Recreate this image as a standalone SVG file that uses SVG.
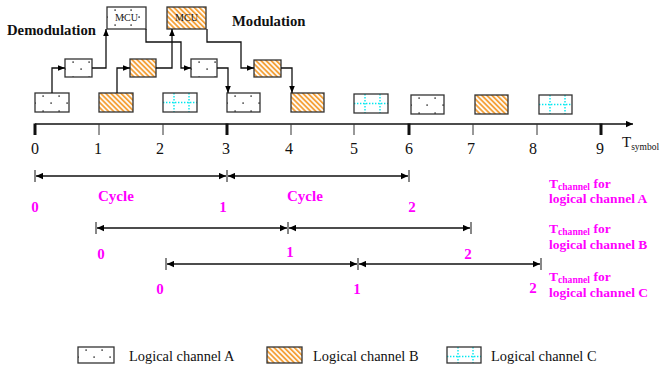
<svg xmlns="http://www.w3.org/2000/svg" width="660" height="370" viewBox="0 0 660 370">
<style>
  .box{stroke:#333;stroke-width:1.3}
  .a{fill:url(#patA)}
  .b{fill:url(#patB)}
  .c{fill:url(#patC)}
  .conn{fill:none;stroke:#111;stroke-width:1.3}
  .dbl{fill:none;stroke:#111;stroke-width:1.3;marker-start:url(#ah);marker-end:url(#ah)}
  .bar{stroke:#111;stroke-width:1}
  .serif{font-family:"Liberation Serif","Times New Roman",serif}
  .tick{font-family:"Liberation Serif","Times New Roman",serif;font-size:16px;fill:#111;text-anchor:middle}
  .mag{font-family:"Liberation Serif","Times New Roman",serif;font-weight:bold;fill:#ff00ff}
  .num{font-size:15px;text-anchor:middle}
  .lbl{font-size:13.5px}
  .title{font-family:"Liberation Serif","Times New Roman",serif;font-weight:bold;font-size:14.7px;fill:#111}
  .mcu{font-family:"Liberation Serif","Times New Roman",serif;font-size:10px;fill:#222;text-anchor:middle}
  .leg{font-family:"Liberation Serif","Times New Roman",serif;font-size:14.4px;fill:#111}
</style>
<defs>
  <pattern id="patA" patternUnits="userSpaceOnUse" width="16" height="15">
    <rect width="16" height="15" fill="#fff"/>
    <rect x="7.4" y="2.4" width="1.4" height="1.4" fill="#222"/>
    <rect x="-0.6" y="9.4" width="1.4" height="1.4" fill="#222"/>
    <rect x="15.4" y="9.4" width="1.4" height="1.4" fill="#222"/>
  </pattern>
  <pattern id="patB" patternUnits="userSpaceOnUse" width="3.6" height="8" patternTransform="rotate(-45)">
    <rect width="3.6" height="8" fill="#fff"/>
    <rect width="1.9" height="8" fill="#f4a23c"/>
  </pattern>
  <pattern id="patC" patternUnits="userSpaceOnUse" width="15" height="19">
    <rect width="15" height="19" fill="#fff"/>
    <line x1="11" y1="0" x2="11" y2="19" stroke="#00e8f0" stroke-width="1.4" stroke-dasharray="1.4 1.6"/>
    <line x1="0" y1="9.5" x2="15" y2="9.5" stroke="#00e8f0" stroke-width="1.4" stroke-dasharray="1.4 1.6"/>
  </pattern>
  <marker id="ah" viewBox="0 0 10 10" refX="10" refY="5" markerWidth="8" markerHeight="7" markerUnits="userSpaceOnUse" orient="auto-start-reverse">
    <path d="M0,0.5 L10,5 L0,9.5 z" fill="#000"/>
  </marker>
  <marker id="ahs" viewBox="0 0 10 10" refX="10" refY="5" markerWidth="7" markerHeight="7" markerUnits="userSpaceOnUse" orient="auto">
    <path d="M0,1 L10,5 L0,9 z" fill="#000"/>
  </marker>
</defs>
<rect width="660" height="370" fill="#fff"/>

<text class="title" x="7" y="35">Demodulation</text>
<text class="title" x="232" y="26">Modulation</text>

<!-- MCU nodes -->
<g id="mcuA" transform="translate(107,7)"><rect class="box a" width="39" height="22"/><text class="mcu" x="19.5" y="14">MCU</text></g>
<g id="mcuB" transform="translate(167,7)"><rect class="box b" width="39" height="22"/><text class="mcu" x="19.5" y="14">MCU</text></g>

<!-- middle row -->
<g id="midA1" transform="translate(65,59)"><rect class="box a" width="27" height="18"/></g>
<g id="midB1" transform="translate(130,59)"><rect class="box b" width="26" height="18"/></g>
<g id="midA2" transform="translate(191,59)"><rect class="box a" width="26" height="18"/></g>
<g id="midB2" transform="translate(254,60)"><rect class="box b" width="27" height="17"/></g>

<!-- bottom row -->
<g id="slot0" transform="translate(35,93)"><rect class="box a" width="34" height="19"/></g>
<g id="slot1" transform="translate(99,93)"><rect class="box b" width="34" height="19"/></g>
<g id="slot2" transform="translate(163,93)"><rect class="box c" width="34" height="19"/></g>
<g id="slot3" transform="translate(227,93)"><rect class="box a" width="33" height="19"/></g>
<g id="slot4" transform="translate(291,93)"><rect class="box b" width="33" height="19"/></g>
<g id="slot5" transform="translate(354,94)"><rect class="box c" width="34" height="19"/></g>
<g id="slot6" transform="translate(411,95)"><rect class="box a" width="33" height="19"/></g>
<g id="slot7" transform="translate(475,95)"><rect class="box b" width="33" height="19"/></g>
<g id="slot8" transform="translate(539,95)"><rect class="box c" width="33" height="19"/></g>

<!-- connectors -->
<g id="connectors">
  <path class="conn" d="M52,93 V68 H65" marker-end="url(#ahs)"/>
  <path class="conn" d="M92,68 H106 V29" marker-end="url(#ahs)"/>
  <path class="conn" d="M117,93 V68 H130" marker-end="url(#ahs)"/>
  <path class="conn" d="M156,68 H172 V29" marker-end="url(#ahs)"/>
  <path class="conn" d="M146,29 V42 H181 V68 H191" marker-end="url(#ahs)"/>
  <path class="conn" d="M217,68 H228 V93" marker-end="url(#ahs)"/>
  <path class="conn" d="M207,29 V42 H241 V68 H254" marker-end="url(#ahs)"/>
  <path class="conn" d="M281,68 H292 V93" marker-end="url(#ahs)"/>
</g>

<!-- time axis -->
<g id="axis">
  <line x1="35" y1="124" x2="633" y2="124" stroke="#111" stroke-width="1.6" marker-end="url(#ah)"/>
  <g stroke="#111" stroke-width="3">
    <line x1="35" y1="123.5" x2="35" y2="135"/>
    <line x1="227" y1="123.5" x2="227" y2="135"/>
    <line x1="409" y1="123.5" x2="409" y2="135"/>
    <line x1="601" y1="123.5" x2="601" y2="135"/>
  </g>
  <g stroke="#333" stroke-width="1">
    <line x1="99" y1="124" x2="99" y2="135"/>
    <line x1="163" y1="124" x2="163" y2="135"/>
    <line x1="291" y1="124" x2="291" y2="135"/>
    <line x1="354" y1="124" x2="354" y2="135"/>
    <line x1="473" y1="124" x2="473" y2="135"/>
    <line x1="537" y1="124" x2="537" y2="135"/>
  </g>
  <text class="tick" x="35" y="154">0</text>
  <text class="tick" x="98" y="154">1</text>
  <text class="tick" x="160" y="154">2</text>
  <text class="tick" x="226" y="154">3</text>
  <text class="tick" x="289" y="154">4</text>
  <text class="tick" x="354" y="154">5</text>
  <text class="tick" x="409" y="154">6</text>
  <text class="tick" x="471" y="154">7</text>
  <text class="tick" x="533" y="154">8</text>
  <text class="tick" x="600" y="154">9</text>
  <text class="serif" x="622" y="147" font-size="15" fill="#111">T<tspan font-size="9.5" dy="3">symbol</tspan></text>
</g>

<!-- channel A cycles -->
<g id="cyclesA">
  <line class="bar" x1="35" y1="170" x2="35" y2="182"/>
  <line class="bar" x1="227" y1="170" x2="227" y2="182"/>
  <line class="bar" x1="409" y1="170" x2="409" y2="182"/>
  <line class="dbl" x1="36" y1="176" x2="226" y2="176"/>
  <line class="dbl" x1="228" y1="176" x2="408" y2="176"/>
  <text class="mag num" x="35" y="212">0</text>
  <text class="mag" x="98" y="201" font-size="15">Cycle</text>
  <text class="mag num" x="223" y="212">1</text>
  <text class="mag" x="287" y="201" font-size="15">Cycle</text>
  <text class="mag num" x="412" y="212">2</text>
  <text class="mag lbl" x="549" y="188">T<tspan font-size="9.6" dy="2">channel</tspan><tspan dy="-2"> for</tspan></text>
  <text class="mag lbl" x="549" y="203">logical channel A</text>
</g>

<!-- channel B cycles -->
<g id="cyclesB">
  <line class="bar" x1="96" y1="222" x2="96" y2="234"/>
  <line class="bar" x1="288" y1="222" x2="288" y2="234"/>
  <line class="bar" x1="471" y1="222" x2="471" y2="234"/>
  <line class="dbl" x1="97" y1="228" x2="287" y2="228"/>
  <line class="dbl" x1="289" y1="228" x2="470" y2="228"/>
  <text class="mag num" x="101" y="259">0</text>
  <text class="mag num" x="290" y="257">1</text>
  <text class="mag num" x="468" y="259">2</text>
  <text class="mag lbl" x="549" y="233">T<tspan font-size="9.6" dy="2">channel</tspan><tspan dy="-2"> for</tspan></text>
  <text class="mag lbl" x="549" y="249">logical channel B</text>
</g>

<!-- channel C cycles -->
<g id="cyclesC">
  <line class="bar" x1="166" y1="258" x2="166" y2="270"/>
  <line class="bar" x1="358" y1="258" x2="358" y2="270"/>
  <line class="bar" x1="541" y1="258" x2="541" y2="270"/>
  <line class="dbl" x1="167" y1="264" x2="357" y2="264"/>
  <line class="dbl" x1="359" y1="264" x2="540" y2="264"/>
  <text class="mag num" x="160" y="294">0</text>
  <text class="mag num" x="357" y="294">1</text>
  <text class="mag num" x="533" y="293">2</text>
  <text class="mag lbl" x="549" y="281">T<tspan font-size="9.6" dy="2">channel</tspan><tspan dy="-2"> for</tspan></text>
  <text class="mag lbl" x="549" y="297">logical channel C</text>
</g>

<!-- legend -->
<g id="legendA" transform="translate(78,347)"><rect class="box a" width="36" height="16"/></g>
<text class="leg" x="129" y="361">Logical channel A</text>
<g id="legendB" transform="translate(267,347)"><rect class="box b" width="35" height="16"/></g>
<text class="leg" x="313" y="361">Logical channel B</text>
<g id="legendC" transform="translate(447,347)"><rect class="box c" width="34" height="16"/></g>
<text class="leg" x="491" y="361">Logical channel C</text>
</svg>
